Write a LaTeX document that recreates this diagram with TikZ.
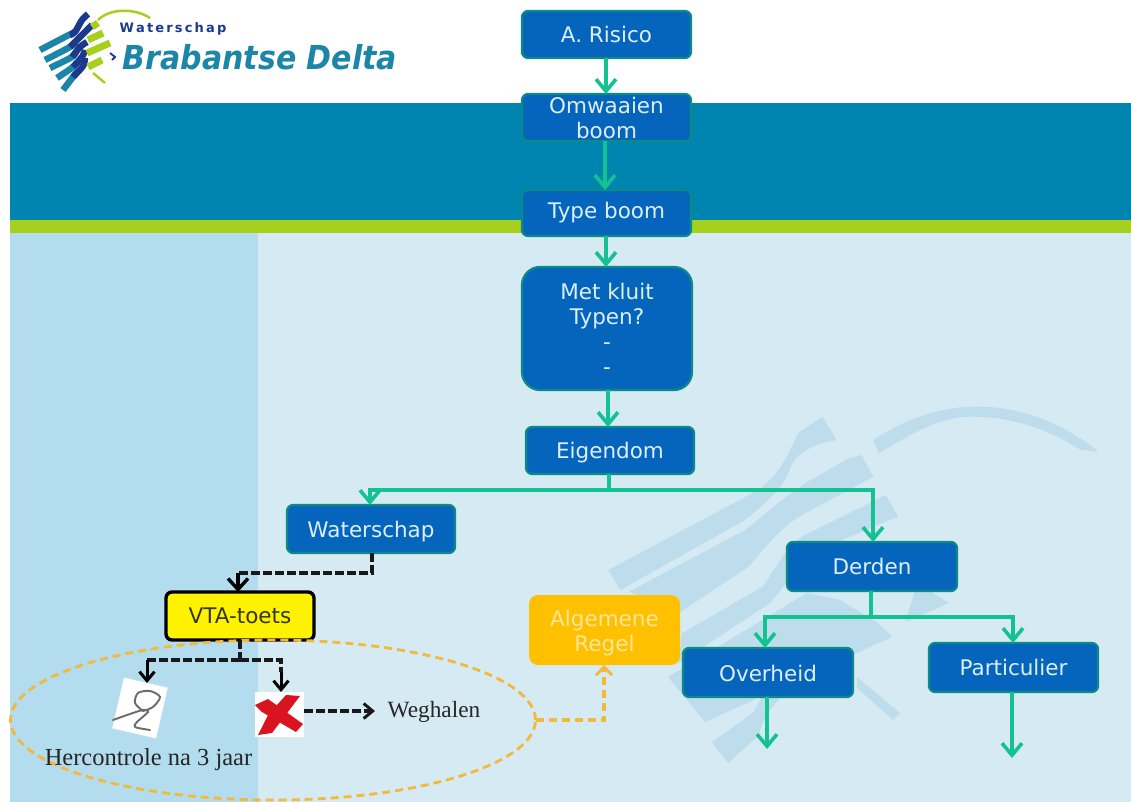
\documentclass[tikz,border=0pt]{standalone}
\usepackage{fontspec}
\setmainfont{DejaVu Sans}
\newfontfamily\serifx{Liberation Serif}
\usetikzlibrary{arrows.meta,calc,shapes.geometric}
\definecolor{bandteal}{HTML}{0085B0}
\definecolor{limeb}{HTML}{A6CF1E}
\definecolor{panelL}{HTML}{B3DDEE}
\definecolor{panelR}{HTML}{D6EAF4}
\definecolor{wm}{HTML}{BDDDED}
\definecolor{boxb}{HTML}{0565BC}
\definecolor{boxe}{HTML}{0B8A86}
\definecolor{boxt}{HTML}{DCEEF9}
\definecolor{grn}{HTML}{12C291}
\definecolor{orng}{HTML}{FFC000}
\definecolor{orngt}{HTML}{FFE59A}
\definecolor{orngl}{HTML}{F2B93A}
\definecolor{ytxt}{HTML}{33380A}
\definecolor{logoT}{HTML}{1C86A8}
\definecolor{logoN}{HTML}{1B3A8C}
\definecolor{logoG}{HTML}{A6CF1E}
\definecolor{crossr}{HTML}{D9141E}
\tikzset{
  bluebox/.style={draw=boxe,fill=boxb,text=boxt,line width=2.2pt,rounded corners=6pt,align=center,
     font=\fontsize{21.5}{25}\selectfont,outer sep=0pt,inner sep=0pt},
  flow/.style={draw=grn,line width=3.6pt,-{Straight Barb[length=12pt,width=20pt,line width=3.6pt]}},
  flowline/.style={draw=grn,line width=3.6pt},
  blk/.style={draw=black!90,line width=3.2pt,dash pattern=on 9pt off 3pt},
  blktip/.style={-{Straight Barb[length=9pt,width=15pt,line width=3pt]}},
  orgd/.style={draw=orngl,line width=3.2pt,dash pattern=on 8pt off 5pt},
  strip/.style={line width=6.5pt,line cap=butt},
}
\begin{document}
\begin{tikzpicture}[x=1pt,y=-1pt]
\useasboundingbox (0,0) rectangle (1131,802);
\fill[white] (0,0) rectangle (1131,802);
\fill[bandteal] (10,103) rectangle (1131,220);
\fill[limeb] (10,220) rectangle (1131,233);
\fill[panelL] (10,233) rectangle (258,802);
\fill[panelR] (258,233) rectangle (1131,802);
% watermark
\begin{scope}[shift={(580,400)},xscale=0.3514,yscale=0.3333,wm]
\fill (80,510) -- (490,280) .. controls (560,240) and (590,170) .. (620,100) -- (690,50) -- (730,120) .. controls (680,130) and (620,150) .. (600,200) .. controls (580,260) and (540,300) .. (470,360) -- (115,570) -- cycle;
\fill (140,575) -- (470,390) .. controls (530,340) and (570,300) .. (640,250) -- (765,175) -- (800,165) -- (835,230) -- (640,340) .. controls (570,380) and (530,440) .. (480,500) -- (280,640) -- cycle;
\fill (290,700) -- (520,560) .. controls (560,500) and (590,430) .. (650,400) -- (870,285) -- (905,350) -- (700,440) .. controls (620,490) and (590,550) .. (540,610) -- (280,790) -- cycle;
\fill (835,120) .. controls (950,40) and (1050,20) .. (1130,20) .. controls (1280,20) and (1400,90) .. (1475,155) -- (1425,150) .. controls (1320,80) and (1220,50) .. (1110,50) .. controls (1020,50) and (930,110) .. (850,160) -- cycle;
\end{scope}
\fill[wm] (668,677) -- (807,593) -- (840,600) -- (878,623) -- (892,637) -- (705,722) -- cycle;
\fill[wm] (915,591) -- (930,591) -- (949,603) -- (905,622) -- cycle;
\fill[wm] (712,742) -- (753,713) -- (760,700) -- (760,690) -- (780,690) -- (780,698) -- (767,713) -- (757,737) -- (728,763) -- cycle;
\fill[wm] (857,677) -- (900,713) -- (893,720) -- (857,688) -- cycle;
% logo
\foreach \p/\q in {{(40,50) (63,38) (75,32)}/{(70,35) (75,32) (82,20) (88,14)},
                   {(45,60) (70,47) (76,42)}/{(70,47) (80,37) (92,25)},
                   {(50,68) (72,57) (76,52)}/{(72,57) (80,47) (87,42)},
                   {(57,78) (73,67) (77,62)}/{(73,67) (82,57) (85,50)},
                   {(63,90) (73,77) (77,72)}/{(73,77) (83,66) (85,58)}}{
  \draw[logoT,strip] plot[smooth] coordinates {\p};
  \draw[logoN,strip] plot[smooth] coordinates {\q};
}
\foreach \a/\b/\c/\d in {92/27/98/23,88/40/103/33,87/53/110/43,88/67/102/60}{
  \draw[logoG,line width=7pt] (\a,\b) -- (\c,\d);
}
\draw[logoG,line width=2.5pt] (98,20) .. controls (110,8) and (135,8) .. (150,18);
\draw[logoG,line width=2.4pt] (93,73) -- (105,83);
\draw[logoN,line width=1.8pt] (110,53) -- (115,57) -- (112,60);
\node[inner sep=0pt,text=logoN,font=\fontsize{13}{14}\bfseries\selectfont] (logoa) at (173,29) {W\,a\,t\,e\,r\,s\,c\,h\,a\,p};
\node[inner sep=0pt,text=logoT,font=\fontsize{33}{36}\bfseries\itshape\selectfont,xscale=0.91,transform shape] (logob) at (260,57) {Brabantse Delta};
% boxes
\node[bluebox,minimum width=169pt,minimum height=47pt] (a) at (606.5,34.5) {A. Risico};
\node[bluebox,minimum width=169pt,minimum height=47pt] (o) at (606.5,117.5) {Omwaaien\\boom};
\node[bluebox,minimum width=169pt,minimum height=46pt] (t) at (606.5,213) {Type boom};
\node[bluebox,minimum width=170pt,minimum height=123pt,rounded corners=18pt] (m) at (607,328.5) {Met kluit\\Typen?\\-\\-};
\node[bluebox,minimum width=168pt,minimum height=47pt] (e) at (610,450.5) {\rule{0pt}{20pt}Eigendom};
\node[bluebox,minimum width=168pt,minimum height=48pt] (w) at (371,529) {\rule{0pt}{22pt}Waterschap};
\node[bluebox,minimum width=170pt,minimum height=49pt] (d) at (872,566.5) {Derden};
\node[bluebox,minimum width=170pt,minimum height=49pt] (ov) at (768,672.5) {\rule{0pt}{19pt}Overheid};
\node[bluebox,minimum width=169pt,minimum height=49pt] (p) at (1013.5,667.5) {Particulier};
\node[draw=black,fill=yellow,text=ytxt,line width=3.4pt,rounded corners=6pt,minimum width=148pt,minimum height=48pt,inner sep=0pt,outer sep=0pt,font=\fontsize{21.5}{25}\selectfont] (v) at (240,616) {VTA-toets};
\node[fill=orng,text=orngt,rounded corners=9pt,minimum width=151pt,minimum height=70pt,inner sep=0pt,outer sep=0pt,align=center,font=\fontsize{21.5}{25}\selectfont] (r) at (604.5,630) {\rule{0pt}{22pt}Algemene\\Regel};
% ellipse
\node[draw=orngl,ellipse,line width=2.8pt,dash pattern=on 8pt off 5pt,minimum width=525pt,minimum height=160pt,inner sep=0pt,outer sep=0pt] (el) at (273,720) {};
% images
\node[fill=white,rotate=-13,minimum width=45pt,minimum height=52pt,inner sep=0pt,outer sep=0pt] (sig) at (140,708) {};
\draw[black!58,line width=1.9pt,line cap=round,line join=round] plot[smooth] coordinates {(113,720) (130,714) (143,710) (148,712) (137,722) (135,727) (150,730)};
\draw[black!58,line width=1.9pt,line cap=round] plot[smooth] coordinates {(143,711) (135,703) (138,693) (150,691) (160,697) (153,707) (143,711)};
\node[fill=white,minimum width=49pt,minimum height=45pt,inner sep=0pt,outer sep=0pt] (x) at (279,714.5) {};
\fill[crossr] (255,705) -- (268,699) -- (303,724) -- (296,732) -- (262,712) -- cycle;
\fill[crossr] (286,695) -- (300,696) -- (272,733) -- (258,735) -- (268,715) -- cycle;
\node[inner sep=0pt,font=\serifx\fontsize{23.3}{26}\selectfont,text=black!85] (wg) at (434,712) {Weghalen};
\node[inner sep=0pt,font=\serifx\fontsize{24.5}{27}\selectfont,text=black!85] (hc) at (148.5,760) {Hercontrole na 3 jaar};
% connectors
\draw[flow] (a.south -| 606,0) -- (o.north -| 606,0);
\draw[flow] (o.south -| 605,0) -- (t.north -| 605,0);
\draw[flow] (t.south -| 606,0) -- (m.north -| 606,0);
\draw[flow] (m.south -| 608,0) -- (e.north -| 608,0);
\coordinate (j1) at (609,490);
\draw[flowline] (e.south -| 609,0) -- (j1);
\draw[flow] (j1) -- (370,490) -- (w.north -| 370,0);
\draw[flow] (j1) -- (873,490) -- (d.north -| 873,0);
\coordinate (j2) at (871,617);
\draw[flowline] (d.south -| 871,0) -- (j2);
\draw[flow] (j2) -- (765,617) -- (ov.north -| 765,0);
\draw[flow] (j2) -- (1013,617) -- (p.north -| 1013,0);
\coordinate (oe) at (767,749);
\coordinate (pe) at (1012,758);
\draw[flow] (ov.south -| oe) -- (oe);
\draw[flow] (p.south -| pe) -- (pe);
% dashed black
\draw[blk] (w.south -| 372,0) -- (372,573) -- (238,573);
\draw[draw=black,line width=3.4pt,-{Straight Barb[length=11pt,width=20pt,line width=3.4pt]}] (238,573) -- (v.north -| 238,0);
\coordinate (j3) at (240,660);
\draw[blk] (v.south -| 240,0) -- (j3);
\draw[blk] (j3) -- (147,660);
\draw[blk] (j3) -- (281,660) -- (281,672);
\coordinate (s1) at (147,683);
\coordinate (s2) at (281,692);
\draw[black,line width=3pt,blktip] (147,660) -- (s1);
\draw[black,line width=3pt,blktip] (281,672) -- (s2);
\coordinate (wa) at (375,711);
\draw[blk,blktip] (x.east |- wa) -- (wa);
% orange connector
\draw[orgd,-{Straight Barb[length=8pt,width=16pt,line width=3pt]}] (el.east) -- (604,720) -- (r.south -| 604,0);
\end{tikzpicture}
\end{document}
